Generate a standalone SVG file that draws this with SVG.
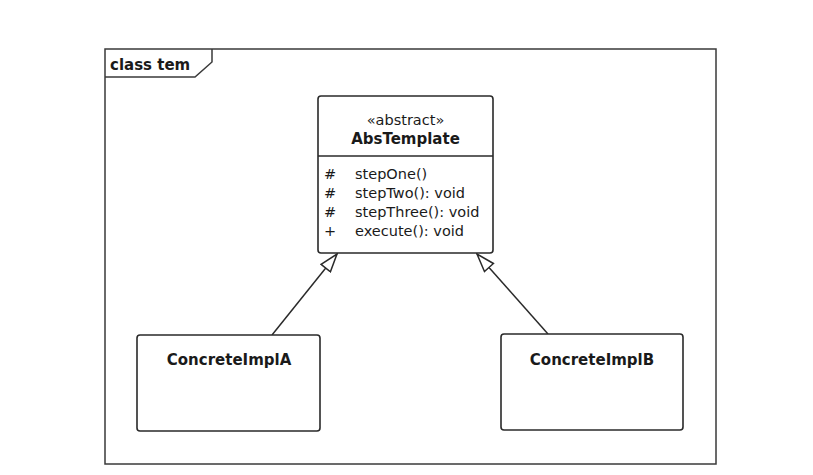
<svg xmlns="http://www.w3.org/2000/svg" width="813" height="475" viewBox="0 0 813 475">
<style>
.frame{fill:none;stroke:#3a3a3a;stroke-width:1.5}
.box{fill:#fff;stroke:#2a2a2a;stroke-width:1.6}
.t{font-family:"DejaVu Sans",sans-serif;fill:#1a1a1a}
.b{font-weight:bold;font-size:15px}
.n{font-size:14.5px}
.edge{stroke:#2a2a2a;stroke-width:1.5;fill:none}
</style>
<defs>
<marker id="gen" viewBox="0 0 20 14" refX="19" refY="7" markerWidth="20" markerHeight="14" markerUnits="userSpaceOnUse" orient="auto">
<path d="M1,1 L19,7 L1,13 Z" fill="#fff" stroke="#2a2a2a" stroke-width="1.5"/>
</marker>
</defs>
<rect width="813" height="475" fill="#fff"/>
<g id="frame">
<rect class="frame" x="105" y="49" width="611" height="415"/>
<path class="frame" d="M105,77 L195,77 L212,62 L212,49"/>
<text class="t b" x="110" y="70" font-size="14.5">class tem</text>
</g>
<g id="connectors">
<line class="edge" x1="272" y1="335" x2="337" y2="254" marker-end="url(#gen)"/>
<line class="edge" x1="548" y1="334" x2="477" y2="254" marker-end="url(#gen)"/>
</g>
<g id="AbsTemplate">
<rect class="box" x="318" y="96" width="175" height="157" rx="3"/>
<line class="box" x1="318" y1="156" x2="493" y2="156"/>
<text class="t n" x="405.5" y="125" text-anchor="middle">«abstract»</text>
<text class="t b" x="405.5" y="144" text-anchor="middle">AbsTemplate</text>
<text class="t n" x="324" y="179">#</text>
<text class="t n" x="355" y="179">stepOne()</text>
<text class="t n" x="324" y="198">#</text>
<text class="t n" x="355" y="198">stepTwo(): void</text>
<text class="t n" x="324" y="217">#</text>
<text class="t n" x="355" y="217">stepThree(): void</text>
<text class="t n" x="324" y="236">+</text>
<text class="t n" x="355" y="236">execute(): void</text>
</g>
<g id="ConcreteImplA">
<rect class="box" x="137" y="335" width="183" height="96" rx="3"/>
<text class="t b" x="229" y="365" text-anchor="middle">ConcreteImplA</text>
</g>
<g id="ConcreteImplB">
<rect class="box" x="501" y="334" width="182" height="96" rx="3"/>
<text class="t b" x="592" y="365" text-anchor="middle">ConcreteImplB</text>
</g>
</svg>
